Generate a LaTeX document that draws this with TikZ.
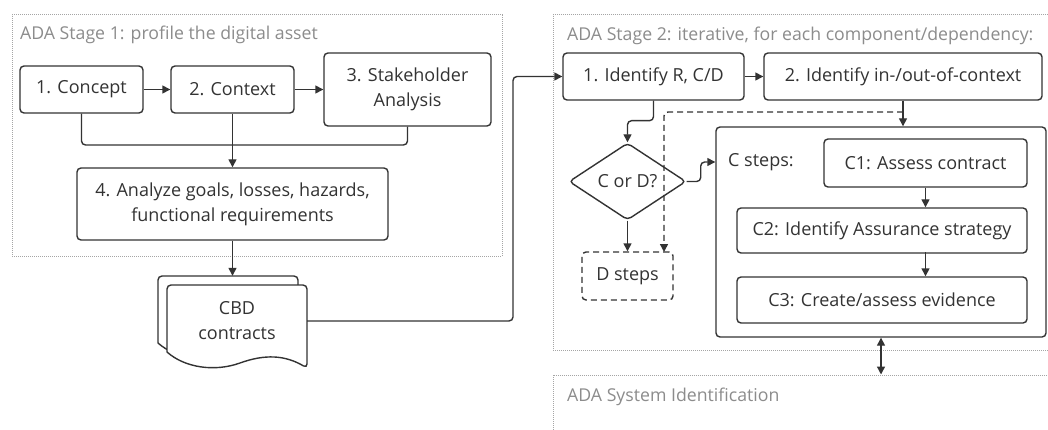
\documentclass[tikz,border=0pt]{standalone}
\usepackage{fontspec}
\setmainfont{Open Sans}
\usetikzlibrary{arrows.meta,shapes.geometric}
\definecolor{ink}{HTML}{333333}
\definecolor{ttl}{HTML}{8C8C8C}
\definecolor{framec}{HTML}{A5A5A5}
\begin{document}
\begin{tikzpicture}[x=1pt,y=-1pt,
  txt/.style={text=ink, font=\fontsize{18}{25}\selectfont},
  box/.style={txt, draw=ink, line width=1.4pt, rounded corners=4pt, fill=white, inner sep=0pt, align=center},
  conn/.style={draw=ink, line width=1.4pt, rounded corners=4pt},
  arr/.style={conn, -{Triangle[length=8pt,width=8pt]}},
  darr/.style={conn, {Triangle[length=8pt,width=8pt]}-{Triangle[length=8pt,width=8pt]}},
  stageframe/.style={draw=framec, line width=1pt, dash pattern=on 1pt off 1pt, inner sep=0pt},
  stagetitle/.style={text=ttl, font=\fontsize{17.7}{25}\selectfont, anchor=base west, inner sep=0pt},
]
\clip (0,0) rectangle (1048,430);
\fill[white] (0,0) rectangle (1048,430);

% stage frames
\node[stageframe, minimum width=490pt, minimum height=241pt] (stageone) at (257,135.5) {};
\node[stagetitle] (titleone) at (20,40) {ADA Stage 1: profile the digital asset};
\node[stageframe, minimum width=507pt, minimum height=335pt] (stagetwo) at (806.5,182.5) {};
\node[stagetitle] (titletwo) at (567,40.5) {ADA Stage 2: iterative, for each component/dependency:};
\node[stageframe, minimum width=507pt, minimum height=80pt] (sysid) at (806.5,415) {};
\node[stagetitle] (titlesys) at (567,401.5) {ADA System Identification};

% stage 1
\node[box, minimum width=123pt, minimum height=47pt] (concept) at (81.5,89.5) {1. Concept};
\node[box, minimum width=123pt, minimum height=47pt] (context) at (232.5,89.5) {2. Context};
\node[box, minimum width=167pt, minimum height=73pt] (stake) at (407.5,89.5) {3. Stakeholder\\Analysis};
\node[box, minimum width=311pt, minimum height=72pt] (goals) at (232.5,204) {4. Analyze goals, losses, hazards,\\functional requirements};
\coordinate (merge) at (232.5,145);

\draw[arr] (concept.east) -- (context.west);
\draw[arr] (context.east) -- (stake.west);
\draw[conn] (concept.south) |- (merge);
\draw[conn] (stake.south) |- (merge);
\draw[arr] (context.south) -- (goals.north);

% CBD contracts document
\begin{scope}[shift={(-9,-9)}]
\draw[conn, fill=white] (167,352) -- (167,285) -- (307,285) -- (307,368) [sharp corners]
  .. controls (285,355) and (265,354) .. (240,363)
  .. controls (215,372) and (185,368) .. (167,352) -- cycle;
\end{scope}
\draw[conn, fill=white] (167,352) -- (167,285) -- (307,285) -- (307,368) [sharp corners]
  .. controls (285,355) and (265,354) .. (240,363)
  .. controls (215,372) and (185,368) .. (167,352) -- cycle;
\node[inner sep=0pt, minimum width=139pt, minimum height=67pt] (cbdback) at (227.5,309.5) {};
\node[txt, inner sep=0pt, minimum width=140pt, minimum height=74pt, align=center] (cbd) at (237,321) {CBD\\contracts};
\draw[arr] (goals.south) -- (goals.south |- cbdback.north);
\coordinate (bend) at (513,200);

% stage 2
\node[box, minimum width=181pt, minimum height=47pt] (identr) at (653.5,76.5) {1. Identify R, C/D};
\node[box, minimum width=278pt, minimum height=47pt] (inout) at (903,76.5) {2. Identify in-/out-of-context};
\node[box, diamond, aspect=1.5, minimum width=117pt, minimum height=77pt] (cord) at (627.5,181.5) {C or D?};
\node[box, dashed, dash pattern=on 6pt off 4pt, minimum width=91pt, minimum height=48pt] (dsteps) at (627.5,276) {D steps};
\node[box, minimum width=330pt, minimum height=210pt] (cbox) at (881,232) {};
\node[txt, anchor=west, inner sep=0pt] (clabel) at (728,162) {C steps:};
\node[box, minimum width=203pt, minimum height=48pt] (cone) at (925.5,163) {C1: Assess contract};
\node[box, minimum width=290pt, minimum height=45pt] (ctwo) at (882,230.5) {C2: Identify Assurance strategy};
\node[box, minimum width=290pt, minimum height=46pt] (cthree) at (882,300) {C3: Create/assess evidence};

\draw[arr] (cbd.east) -| (bend) |- (identr.west);
\draw[arr] (identr.east) -- (inout.west);
\draw[arr] (identr.south) -- ++(0,20) -| (cord.north);
\coordinate (dsplit) at (903,112);
\coordinate (dtarget) at (664,252);
\draw[arr, dashed, dash pattern=on 6pt off 4pt] (dsplit) -| (dtarget);
\draw[arr] (inout.south) -- (inout.south |- cbox.north);
\draw[arr] (cord.south) -- (dsteps.north);
\draw[arr] (cord.east) -- ++(14,0) |- (cbox.west |- clabel);
\draw[arr] (cone.south) -- (cone.south |- ctwo.north);
\draw[arr] (ctwo.north -| cone.south) ++(0,45) -- (cone.south |- cthree.north);
\draw[darr] (cbox.south) -- (cbox.south |- sysid.north);
\end{tikzpicture}
\end{document}
